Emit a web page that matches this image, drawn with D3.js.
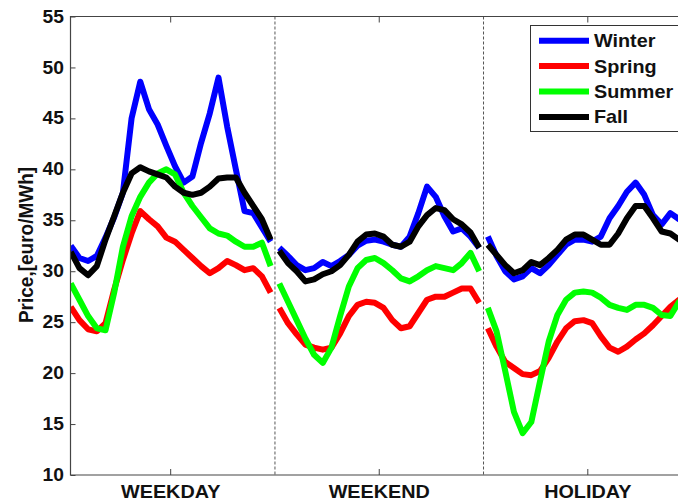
<!DOCTYPE html>
<html>
<head>
<meta charset="utf-8">
<script src="https://cdn.jsdelivr.net/npm/d3@7"></script>
<style>
  body { margin: 0; background: #fff; }
  svg { display: block; font-family: "Liberation Sans", Arial, sans-serif; font-weight: bold; }
</style>
</head>
<body>
<div id="chart"></div>
<script>
// hourly prices, one array per day type (WEEKDAY, WEEKEND, HOLIDAY)
var panels = ["WEEKDAY", "WEEKEND", "HOLIDAY"];
var seasons = ["Winter", "Spring", "Summer", "Fall"];
var colors = ["#0000ff", "#ff0000", "#00ff00", "#000000"];
var yTicks = [10, 15, 20, 25, 30, 35, 40, 45, 50, 55];

var winter = [
  [32.5, 31.3, 31.0, 31.5, 33.3, 35.3, 37.7, 45.0, 48.6, 45.9, 44.4, 42.3, 40.3, 38.7, 39.3, 42.6, 45.5, 49.0, 44.2, 40.0, 35.9, 35.7, 34.3, 32.9],
  [32.3, 31.5, 30.6, 30.1, 30.3, 30.9, 30.5, 31.0, 31.6, 32.5, 33.0, 33.1, 32.9, 32.6, 32.4, 33.4, 35.7, 38.3, 37.3, 35.4, 33.9, 34.2, 33.4, 32.3],
  [33.4, 31.5, 30.0, 29.2, 29.5, 30.3, 29.8, 30.6, 31.6, 32.6, 33.1, 33.1, 32.9, 33.4, 35.2, 36.4, 37.8, 38.7, 37.5, 35.5, 34.6, 35.7, 35.1, 35.0]
];
var spring = [
  [26.5, 25.2, 24.3, 24.1, 24.9, 28.2, 31.1, 33.7, 35.9, 35.1, 34.4, 33.3, 32.9, 32.1, 31.3, 30.5, 29.8, 30.3, 31.0, 30.6, 30.1, 30.3, 29.5, 27.9],
  [26.4, 24.9, 23.8, 22.8, 22.5, 22.3, 22.5, 23.9, 25.6, 26.7, 27.0, 26.9, 26.4, 25.2, 24.4, 24.6, 25.9, 27.2, 27.5, 27.5, 27.9, 28.3, 28.3, 26.9],
  [24.4, 22.6, 21.1, 20.5, 19.9, 19.8, 20.2, 21.5, 23.1, 24.4, 25.1, 25.2, 24.9, 23.6, 22.5, 22.1, 22.6, 23.3, 23.9, 24.7, 25.6, 26.5, 27.2, 27.5]
];
var summer = [
  [28.8, 27.2, 25.6, 24.4, 24.2, 27.9, 32.4, 35.4, 37.3, 38.7, 39.6, 40.0, 39.5, 37.7, 36.4, 35.3, 34.2, 33.7, 33.5, 32.9, 32.4, 32.4, 32.8, 30.5],
  [28.8, 27.0, 25.2, 23.4, 21.8, 21.0, 22.5, 25.6, 28.5, 30.3, 31.1, 31.3, 30.8, 30.1, 29.3, 29.0, 29.5, 30.1, 30.5, 30.3, 30.1, 30.8, 31.8, 30.0],
  [26.4, 24.1, 20.2, 16.2, 14.1, 15.2, 19.2, 23.1, 25.7, 27.2, 27.9, 28.0, 27.9, 27.4, 26.7, 26.4, 26.2, 26.7, 26.7, 26.4, 25.7, 25.6, 27.0, 27.0]
];
var fall = [
  [31.9, 30.3, 29.6, 30.5, 33.1, 35.4, 37.7, 39.6, 40.2, 39.8, 39.5, 39.2, 38.3, 37.7, 37.5, 37.7, 38.3, 39.1, 39.2, 39.2, 37.7, 36.4, 35.1, 33.1],
  [32.0, 30.8, 30.0, 29.0, 29.2, 29.7, 30.0, 30.6, 31.6, 32.9, 33.6, 33.7, 33.4, 32.6, 32.4, 32.9, 34.4, 35.5, 36.2, 36.0, 35.1, 34.6, 33.8, 32.3],
  [32.6, 31.6, 30.6, 29.8, 30.1, 30.9, 30.6, 31.3, 32.1, 33.1, 33.6, 33.6, 33.1, 32.6, 32.6, 33.7, 35.2, 36.4, 36.4, 35.2, 33.9, 33.7, 33.1, 33.0]
];
var series = [winter, spring, summer, fall];

var width = 678, height = 501;
var plot = { left: 70.5, top: 16.5, bottom: 475 };
var stretch = "scale(1.1,1)";   // the original figure is a bit wider than Arial

var svg = d3.select("#chart").append("svg")
    .attr("width", width)
    .attr("height", height);

svg.append("rect").attr("width", width).attr("height", height).attr("fill", "#fff");

// x in hours over the three consecutive days
var x = d3.scaleLinear().domain([0, 72]).range([66.4, 66.4 + 72 * 8.69]);
var y = d3.scaleLinear().domain([10, 55]).range([plot.bottom, plot.top]);

svg.append("clipPath").attr("id", "clip")
  .append("rect")
    .attr("x", plot.left).attr("y", plot.top)
    .attr("width", width - plot.left).attr("height", plot.bottom - plot.top);

// day separators
svg.selectAll("line.sep")
  .data([24, 48])
  .enter().append("line")
    .attr("class", "sep")
    .attr("x1", d => x(d)).attr("x2", d => x(d))
    .attr("y1", plot.top).attr("y2", plot.bottom)
    .attr("stroke", "#555")
    .attr("stroke-width", 1)
    .attr("stroke-dasharray", "3,2");

// lines, one path per season and day
var line = d3.line()
    .x(d => x(d.h))
    .y(d => y(d.v));

var lines = svg.append("g").attr("clip-path", "url(#clip)");
series.forEach(function (s, si) {
  s.forEach(function (vals, p) {
    var pts = vals.map(function (v, i) { return { h: p * 24 + i + 0.5, v: v }; });
    lines.append("path")
      .datum(pts)
      .attr("d", line)
      .attr("fill", "none")
      .attr("stroke", colors[si])
      .attr("stroke-width", 6)
      .attr("stroke-linejoin", "round");
  });
});

// frame
svg.append("path")
  .attr("d", "M" + (width + 5) + "," + plot.top + "H" + plot.left + "V" + plot.bottom + "H" + (width + 5))
  .attr("fill", "none")
  .attr("stroke", "#444")
  .attr("stroke-width", 1.2);

// y axis
var yAxis = svg.append("g")
    .attr("transform", "translate(" + plot.left + ",0)")
    .call(d3.axisLeft(y).tickValues(yTicks).tickSizeInner(-5).tickSizeOuter(0).tickPadding(6));
yAxis.select(".domain").remove();
yAxis.selectAll(".tick line").attr("stroke", "#444");
yAxis.selectAll(".tick text")
    .attr("fill", "#111")
    .style("font-size", "17.5px")
    .style("font-family", "'Liberation Sans', Arial, sans-serif")
    .style("font-weight", "bold")
    .attr("transform", stretch);

// x ticks, top and bottom, pointing inward
var xTickPos = [12, 36, 60];
svg.selectAll("line.xtb")
  .data(xTickPos)
  .enter().append("line")
    .attr("x1", d => x(d)).attr("x2", d => x(d))
    .attr("y1", plot.bottom).attr("y2", plot.bottom - 6)
    .attr("stroke", "#444");
svg.selectAll("line.xtt")
  .data(xTickPos)
  .enter().append("line")
    .attr("x1", d => x(d)).attr("x2", d => x(d))
    .attr("y1", plot.top).attr("y2", plot.top + 6)
    .attr("stroke", "#444");

svg.selectAll("g.xlab")
  .data(panels)
  .enter().append("g")
    .attr("transform", (d, i) => "translate(" + x(xTickPos[i]) + ",498)")
  .append("text")
    .attr("transform", stretch)
    .attr("text-anchor", "middle")
    .attr("fill", "#111")
    .style("font-size", "18px")
    .text(d => d);

// y label
svg.append("g")
    .attr("transform", "translate(33,245) scale(1.05,1) rotate(-90)")
  .append("text")
    .attr("text-anchor", "middle")
    .attr("fill", "#111")
    .style("font-size", "19px")
    .text("Price,[euro/MWh]");

// legend
var legend = svg.append("g");
legend.append("rect")
    .attr("x", 530.5).attr("y", 25.5)
    .attr("width", 200).attr("height", 106)
    .attr("fill", "#fff")
    .attr("stroke", "#333")
    .attr("stroke-width", 1);

var items = legend.selectAll("g.item")
  .data(seasons)
  .enter().append("g")
    .attr("transform", (d, i) => "translate(0," + (40.7 + i * 25.4) + ")");
items.append("line")
    .attr("x1", 539).attr("x2", 589)
    .attr("stroke", (d, i) => colors[i])
    .attr("stroke-width", 6);
items.append("g")
    .attr("transform", "translate(594,6.5)")
  .append("text")
    .attr("transform", stretch)
    .attr("fill", "#111")
    .style("font-size", "18px")
    .text(d => d);
</script>
</body>
</html>
